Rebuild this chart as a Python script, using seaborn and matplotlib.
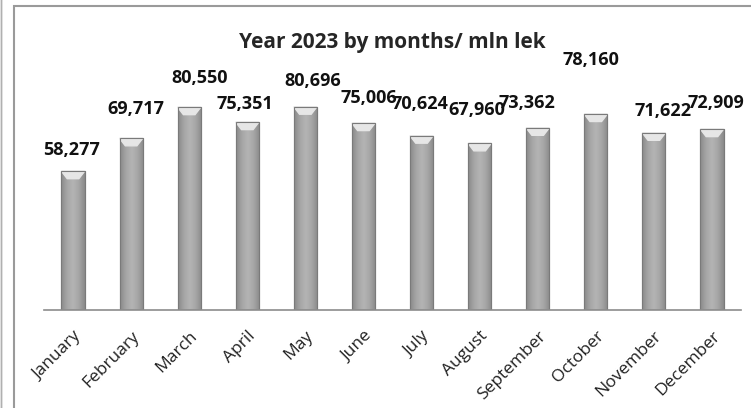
import numpy as np
import pandas as pd
import seaborn as sns
import matplotlib.pyplot as plt
from matplotlib.patches import Rectangle
from matplotlib.colors import LinearSegmentedColormap

months = ["January", "February", "March", "April", "May", "June", "July",
          "August", "September", "October", "November", "December"]
values = [58277, 69717, 80550, 75351, 80696, 75006, 70624, 67960, 73362,
          78160, 71622, 72909]
title = "Year 2023 by months/ mln lek"

# label offsets in pixels (dx, dy) from bar top to label centre, hand placed
label_offsets = [(-1, 21), (5, 29), (10, 29), (-2, 18), (7, 26), (5, 25),
                 (-2, 32), (-3, 33), (-11, 25), (-5, 54), (9, 22), (4, 26)]

sns.set_style("white")
plt.rcParams['font.family'] = ['Open Sans', 'DejaVu Sans']

df = pd.DataFrame({"month": months, "value": values})

fig = plt.figure(figsize=(7.51, 4.08), dpi=100)
ax = fig.add_axes([44 / 751, 98 / 408, 697 / 751, 230 / 408])

sns.barplot(data=df, x="month", y="value", color="#a0a0a0", width=0.4,
            edgecolor="#7a7a7a", linewidth=0.8, ax=ax)
ax.set_ylim(10000, 90000)
ax.set_xlim(-0.5, 11.5)

# cylinder-ish gradient on each bar
cmap = LinearSegmentedColormap.from_list(
    "cyl", ["#8a8a8a", "#a6a6a6", "#b4b4b4", "#a6a6a6", "#8a8a8a"])
grad = np.linspace(0, 1, 64).reshape(1, -1)
for p in ax.patches:
    x0, y0 = p.get_x(), 10000
    w, h = p.get_width(), p.get_height()
    im = ax.imshow(grad, cmap=cmap, aspect="auto",
                   extent=(x0, x0 + w, y0, h), zorder=p.get_zorder() + 0.1)
    im.set_clip_path(p)
    # light bevel at the top
    ax.fill([x0, x0 + w, x0 + w * 0.75, x0 + w * 0.25],
            [h, h, h - 2600, h - 2600], color="#e6e6e6",
            zorder=p.get_zorder() + 0.2)
    ax.add_patch(Rectangle((x0, y0), w, h - y0, fill=False,
                           edgecolor="#7a7a7a", linewidth=0.8,
                           zorder=p.get_zorder() + 0.3))

for i, v in enumerate(values):
    dx, dy = label_offsets[i]
    ax.annotate(f"{v:,}", (i, v), xytext=(dx * 0.72, dy * 0.72),
                textcoords="offset points", ha="center", va="center",
                fontsize=13, fontweight="bold", color="#111111")

ax.set_title(title, fontsize=15, fontweight="bold", pad=23)
ax.set_xlabel("")
ax.set_ylabel("")
ax.set_yticks([])
for s in ["top", "right", "left"]:
    ax.spines[s].set_visible(False)
ax.spines["bottom"].set_color("#8c8c8c")
ax.spines["bottom"].set_linewidth(1.2)

ax.set_xticks(np.arange(-0.5, 12, 1), minor=True)
ax.tick_params(axis="x", which="minor", length=7, color="#8c8c8c", width=1.2)
ax.tick_params(axis="x", which="major", length=0, pad=13)
ax.set_xticks(range(12))
ax.set_xticklabels(months, rotation=45, ha="right", rotation_mode="anchor",
                   fontsize=12.5, color="#222222")

# outer chart frame (cut off at right and bottom)
fig.patches.append(Rectangle((14 / 751, -0.05), 1.0, 0.05 + 402 / 408,
                             transform=fig.transFigure, fill=False,
                             edgecolor="#9a9a9a", linewidth=1.5))
fig.patches.append(Rectangle((1 / 751, -0.05), 0, 1.1,
                             transform=fig.transFigure, fill=False,
                             edgecolor="#b0b0b0", linewidth=1))

fig.savefig("out.png", dpi=100)
